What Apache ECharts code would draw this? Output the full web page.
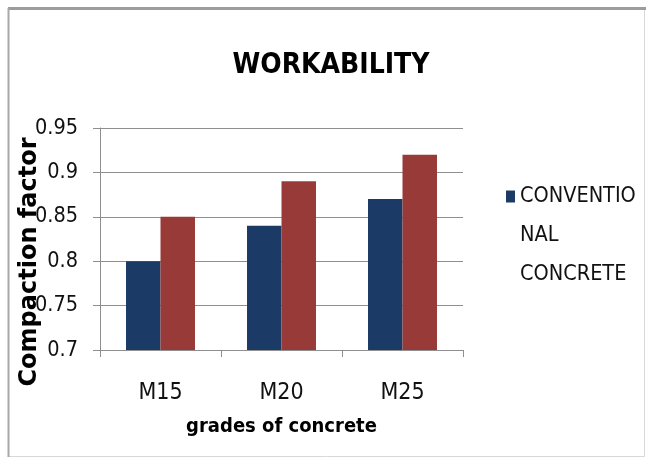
<!DOCTYPE html>
<html>
<head>
<meta charset="utf-8">
<script src="https://cdn.jsdelivr.net/npm/echarts@6/dist/echarts.min.js"></script>
<style>
html,body{margin:0;padding:0;background:#fff;}
#chart{width:646px;height:459px;}
</style>
</head>
<body>
<div id="chart"></div>
<script>
const categories = ['M15', 'M20', 'M25'];
const conventional = [0.80, 0.84, 0.87];
const modified = [0.85, 0.89, 0.92];
const yTicks = { min: 0.7, max: 0.95, interval: 0.05 };
const seriesNames = ['CONVENTIONAL CONCRETE', 'MODIFIED CONCRETE'];

const NARROW = "'DejaVu Sans Condensed', 'Liberation Sans', sans-serif";
const chart = echarts.init(document.getElementById('chart'), null, { renderer: 'canvas' });
chart.setOption({
  backgroundColor: '#ffffff',
  animation: false,
  title: {
    text: 'WORKABILITY',
    left: 331,
    textAlign: 'center',
    top: 52,
    padding: 0,
    textStyle: { fontFamily: NARROW, fontWeight: 'bold', fontSize: 28, color: '#000' }
  },
  legend: {
    data: [seriesNames[0]],
    left: 506,
    top: 99,
    padding: 0,
    itemWidth: 9,
    itemHeight: 12,
    itemGap: 6,
    icon: 'rect',
    formatter: function () { return '\n\nCONVENTIO\nNAL\nCONCRETE'; },
    textStyle: { fontFamily: NARROW, fontSize: 21.5, color: '#111', lineHeight: 39 }
  },
  grid: { left: 100, right: 183, top: 128, bottom: 109, containLabel: false, outerBoundsMode: 'none' },
  xAxis: {
    type: 'category',
    data: categories,
    name: 'grades of concrete',
    nameLocation: 'middle',
    nameGap: 67,
    nameMoveOverlap: false,
    nameTextStyle: { fontFamily: NARROW, fontWeight: 'bold', fontSize: 20, color: '#000' },
    axisLine: { lineStyle: { color: '#8f8f8f', width: 1 } },
    axisTick: { show: true, length: 7, lineStyle: { color: '#8f8f8f' } },
    axisLabel: { fontFamily: NARROW, fontSize: 23, color: '#111', margin: 32 }
  },
  yAxis: {
    type: 'value',
    min: yTicks.min,
    max: yTicks.max,
    interval: yTicks.interval,
    name: 'Compaction factor',
    nameLocation: 'middle',
    nameRotate: 90,
    nameGap: 58,
    nameMoveOverlap: false,
    nameTextStyle: { fontFamily: "'DejaVu Sans', sans-serif", fontWeight: 'bold', fontSize: 24, color: '#000', padding: [0, 46, 0, 0] },
    axisLine: { show: true, lineStyle: { color: '#8f8f8f', width: 1 } },
    axisTick: { show: true, length: 7, lineStyle: { color: '#8f8f8f' } },
    axisLabel: { fontFamily: NARROW, fontSize: 21.5, color: '#111', margin: 22 },
    splitLine: { lineStyle: { color: '#8f8f8f', width: 1 } }
  },
  series: [
    { name: seriesNames[0], type: 'bar', data: conventional, barGap: '0%', barCategoryGap: '43%', itemStyle: { color: '#1b3a66' } },
    { name: seriesNames[1], type: 'bar', data: modified, barGap: '0%', barCategoryGap: '43%', itemStyle: { color: '#983a37' } }
  ],
  graphic: [
    { type: 'rect', shape: { x: 8.5, y: 8.5, width: 636, height: 448 }, style: { fill: 'none', stroke: '#d8d8d8', lineWidth: 1 }, silent: true },
    { type: 'line', shape: { x1: 8, y1: 8.5, x2: 646, y2: 8.5 }, style: { stroke: '#9c9c9c', lineWidth: 3 }, silent: true },
    { type: 'line', shape: { x1: 8.5, y1: 8, x2: 8.5, y2: 457 }, style: { stroke: '#a8a8a8', lineWidth: 2 }, silent: true }
  ]
});
</script>
</body>
</html>
